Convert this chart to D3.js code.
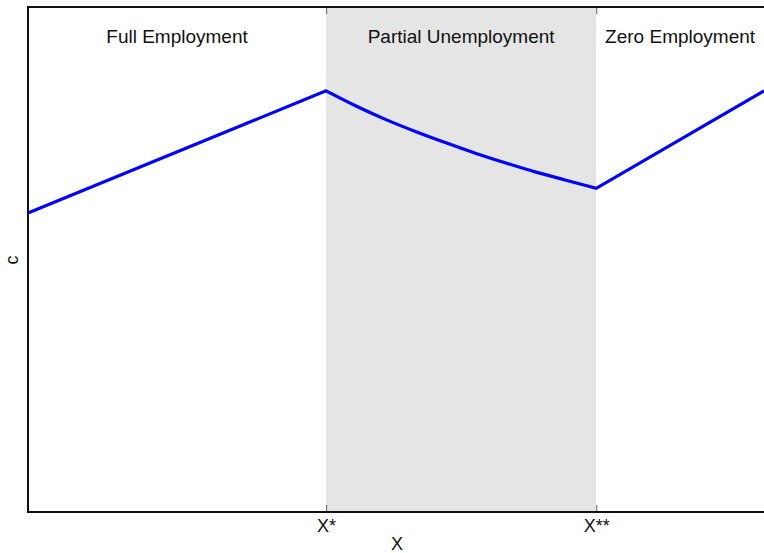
<!DOCTYPE html>
<html>
<head>
<meta charset="utf-8">
<script src="https://cdn.jsdelivr.net/npm/d3@7/dist/d3.min.js"></script>
<style>
  html, body { margin: 0; padding: 0; background: #fff; }
  svg { display: block; font-family: "Liberation Sans", Arial, sans-serif; }
</style>
</head>
<body>
<svg id="chart" width="764" height="553"></svg>
<script>
// Thresholds on the X axis
const xStar = 4.05;
const xStarStar = 7.72;
const xMin = 0, xMax = 10;

// Tick labels for the thresholds
const tickValues = [xStar, xStarStar];
const tickLabels = ["X*", "X**"];

// Regime names and their extents
const regimeNames = ["Full Employment", "Partial Unemployment", "Zero Employment"];
const regimeStarts = [xMin, xStar, xStarStar];
const regimeEnds = [xStar, xStarStar, xMax];

// c as a function of X: linear rise, convex decline, linear rise
const leftX = [0, 4.05];
const leftC = [0.592, 0.834];
const midX = [4.05, 4.457, 4.864, 5.272, 5.679, 6.087, 6.495, 6.902, 7.310, 7.72];
const midC = [0.834, 0.804, 0.777, 0.753, 0.731, 0.710, 0.691, 0.673, 0.657, 0.641];
const rightX = [7.72, 10];
const rightC = [0.641, 0.834];

const svg = d3.select("#chart");
const L = 28, R = 764, T = 7, B = 512;

const x = d3.scaleLinear().domain([xMin, xMax]).range([L, R]);
const y = d3.scaleLinear().domain([0, 1]).range([B, T]);

// Shaded partial-unemployment band
svg.append("rect")
  .attr("x", x(xStar)).attr("y", T)
  .attr("width", x(xStarStar) - x(xStar)).attr("height", B - T)
  .attr("fill", "#e5e5e5");

// Regime labels
svg.selectAll("text.regime")
  .data(regimeNames)
  .join("text")
  .attr("class", "regime")
  .attr("x", (d, i) => (x(regimeStarts[i]) + x(regimeEnds[i])) / 2)
  .attr("y", 43)
  .attr("text-anchor", "middle")
  .attr("font-size", 19)
  .attr("fill", "#111")
  .text(d => d);

// Curve
const line = d3.line().x(d => x(d[0])).y(d => y(d[1]));
const lineMid = d3.line().x(d => x(d[0])).y(d => y(d[1])).curve(d3.curveMonotoneX);
const zip = (a, b) => a.map((v, i) => [v, b[i]]);
const pathD = line(zip(leftX, leftC)) + lineMid(zip(midX, midC)).replace(/^M/, "L") + line(zip(rightX, rightC)).replace(/^M/, "L");
svg.append("path")
  .attr("d", pathD)
  .attr("fill", "none")
  .attr("stroke", "#0000ff")
  .attr("stroke-width", 3.2)
  .attr("stroke-linejoin", "miter");

// Bottom axis with inward ticks
const xAxis = d3.axisBottom(x)
  .tickValues(tickValues)
  .tickFormat((d, i) => tickLabels[i])
  .tickSizeInner(-7)
  .tickSizeOuter(0)
  .tickPadding(7);
const gx = svg.append("g").attr("transform", `translate(0,${B})`).call(xAxis);
gx.select(".domain").remove();
gx.selectAll(".tick line").attr("stroke", "#777").attr("stroke-width", 1.2);
gx.selectAll(".tick text")
  .attr("font-size", 18)
  .attr("font-family", "Liberation Sans, Arial, sans-serif")
  .attr("fill", "#111");

// Top axis: ticks only
const xTop = d3.axisTop(x)
  .tickValues(tickValues)
  .tickFormat("")
  .tickSizeInner(-7)
  .tickSizeOuter(0);
const gt = svg.append("g").attr("transform", `translate(0,${T})`).call(xTop);
gt.select(".domain").remove();
gt.selectAll(".tick line").attr("stroke", "#777").attr("stroke-width", 1.2);

// Frame: top, left and bottom edges
svg.append("path")
  .attr("d", `M${R},${T}H${L}V${B}H${R}`)
  .attr("fill", "none")
  .attr("stroke", "#111")
  .attr("stroke-width", 2);

// Axis titles
svg.append("text")
  .attr("x", 397).attr("y", 550)
  .attr("text-anchor", "middle")
  .attr("font-size", 18)
  .attr("fill", "#111")
  .text("X");

svg.append("text")
  .attr("transform", "translate(18,260) rotate(-90)")
  .attr("text-anchor", "middle")
  .attr("font-size", 18)
  .attr("fill", "#111")
  .text("c");
</script>
</body>
</html>
